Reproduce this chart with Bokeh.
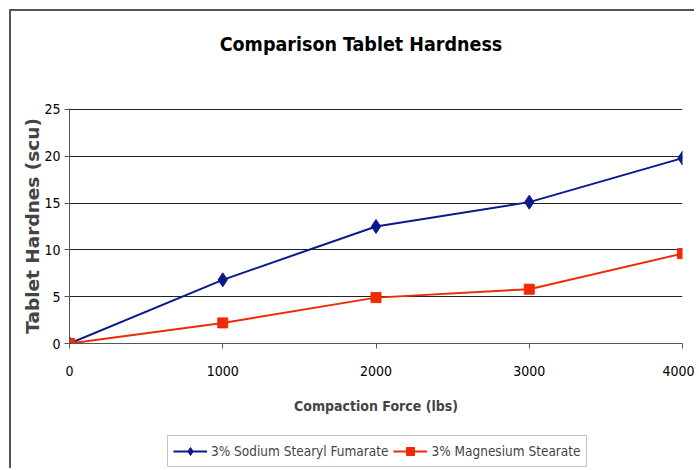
from bokeh.plotting import figure
from bokeh.models import Legend, LegendItem, Range1d, FixedTicker, Label
from bokeh.layouts import column
from bokeh.embed import file_html
from bokeh.resources import INLINE

title_text = "Comparison Tablet Hardness"
force = [0, 1000, 2000, 3000, 4000]
ssf = [0.0, 6.8, 12.5, 15.1, 19.8]
mgst = [0.0, 2.2, 4.9, 5.8, 9.6]
x_ticks = [0, 1000, 2000, 3000, 4000]
y_ticks = [0, 5, 10, 15, 20, 25]

BLUE = "#0a1a8c"
RED = "#f02a05"
NARROW = "'DejaVu Sans Condensed', Roboto, sans-serif"
W = 683

# title strip
ts = figure(width=W, height=88, output_backend="svg", toolbar_location=None,
            x_range=Range1d(0, 1), y_range=Range1d(0, 1),
            x_axis_type=None, y_axis_type=None,
            min_border_left=58, min_border_right=12, min_border_top=0, min_border_bottom=0,
            background_fill_color="white", border_fill_color="white")
ts.outline_line_color = None
ts.grid.visible = False
ts.add_layout(Label(x=0.4755, y=0.625, text=title_text, text_align="center",
                    text_baseline="middle", text_font=NARROW, text_font_size="19.5px",
                    text_font_style="bold", text_color="black"))

p = figure(width=W, height=324, output_backend="svg", toolbar_location=None,
           x_range=Range1d(0, 4000), y_range=Range1d(0, 25.1),
           min_border_left=58, min_border_right=12, min_border_top=9, min_border_bottom=80,
           background_fill_color="white", border_fill_color="white")
p.outline_line_color = None

p.xaxis.ticker = FixedTicker(ticks=x_ticks)
p.yaxis.ticker = FixedTicker(ticks=y_ticks)
p.xgrid.grid_line_color = None
p.ygrid.grid_line_color = "#222222"
p.ygrid.grid_line_width = 1

for ax in (p.xaxis[0], p.yaxis[0]):
    ax.axis_line_color = "#555555"
    ax.major_tick_line_color = "#555555"
    ax.minor_tick_line_color = None
    ax.major_tick_in = 0
    ax.major_tick_out = 5
    ax.major_label_text_font = NARROW
    ax.major_label_text_font_size = "14px"
    ax.major_label_text_color = "black"

p.xaxis.major_label_standoff = 17
p.yaxis.major_label_standoff = 4
p.xaxis.axis_label = "Compaction Force (lbs)"
p.xaxis.axis_label_text_font = NARROW
p.xaxis.axis_label_text_font_size = "14px"
p.xaxis.axis_label_text_font_style = "bold"
p.xaxis.axis_label_standoff = 19
p.yaxis.axis_label = "Tablet Hardnes (scu)"
p.yaxis.axis_label_text_font = "DejaVu Sans"
p.yaxis.axis_label_text_font_size = "18.5px"
p.yaxis.axis_label_text_font_style = "bold"
p.yaxis.axis_label_standoff = -2

p.line(force, ssf, line_color=BLUE, line_width=2)
p.scatter(force, ssf, marker="diamond", size=14, fill_color=BLUE, line_color=BLUE)
p.line(force, mgst, line_color=RED, line_width=2)
p.scatter(force, mgst, marker="square", size=10, fill_color=RED, line_color=RED)

# legend strip (same series, drawn off-range so only the legend shows)
q = figure(width=W, height=45, output_backend="svg", toolbar_location=None,
           x_range=Range1d(-20000, -19000), y_range=Range1d(0, 1),
           x_axis_type=None, y_axis_type=None,
           min_border_left=58, min_border_right=12, min_border_top=0, min_border_bottom=0,
           background_fill_color="white", border_fill_color="white")
q.outline_line_color = None
q.grid.visible = False
ql1 = q.line(force, ssf, line_color=BLUE, line_width=2)
qm1 = q.scatter(force, ssf, marker="diamond", size=14, fill_color=BLUE, line_color=BLUE)
ql2 = q.line(force, mgst, line_color=RED, line_width=2)
qm2 = q.scatter(force, mgst, marker="square", size=10, fill_color=RED, line_color=RED)

legend = Legend(items=[LegendItem(label="3% Sodium Stearyl Fumarate", renderers=[ql1, qm1]),
                       LegendItem(label="3% Magnesium Stearate", renderers=[ql2, qm2])],
                orientation="horizontal", location=(98, 1),
                label_text_font=NARROW, label_text_font_size="13.5px",
                glyph_width=34, glyph_height=20, label_standoff=4, spacing=5,
                padding=5, margin=0, border_line_color="#888888", border_line_width=1,
                background_fill_color="white")
q.add_layout(legend, "center")

layout = column(ts, p, q, spacing=0)
layout.styles = {"border-left": "2px solid #555555", "border-top": "2px solid #555555",
                 "margin": "9px 0px 0px 9px"}

open("out.html", "w").write(file_html(layout, INLINE))
